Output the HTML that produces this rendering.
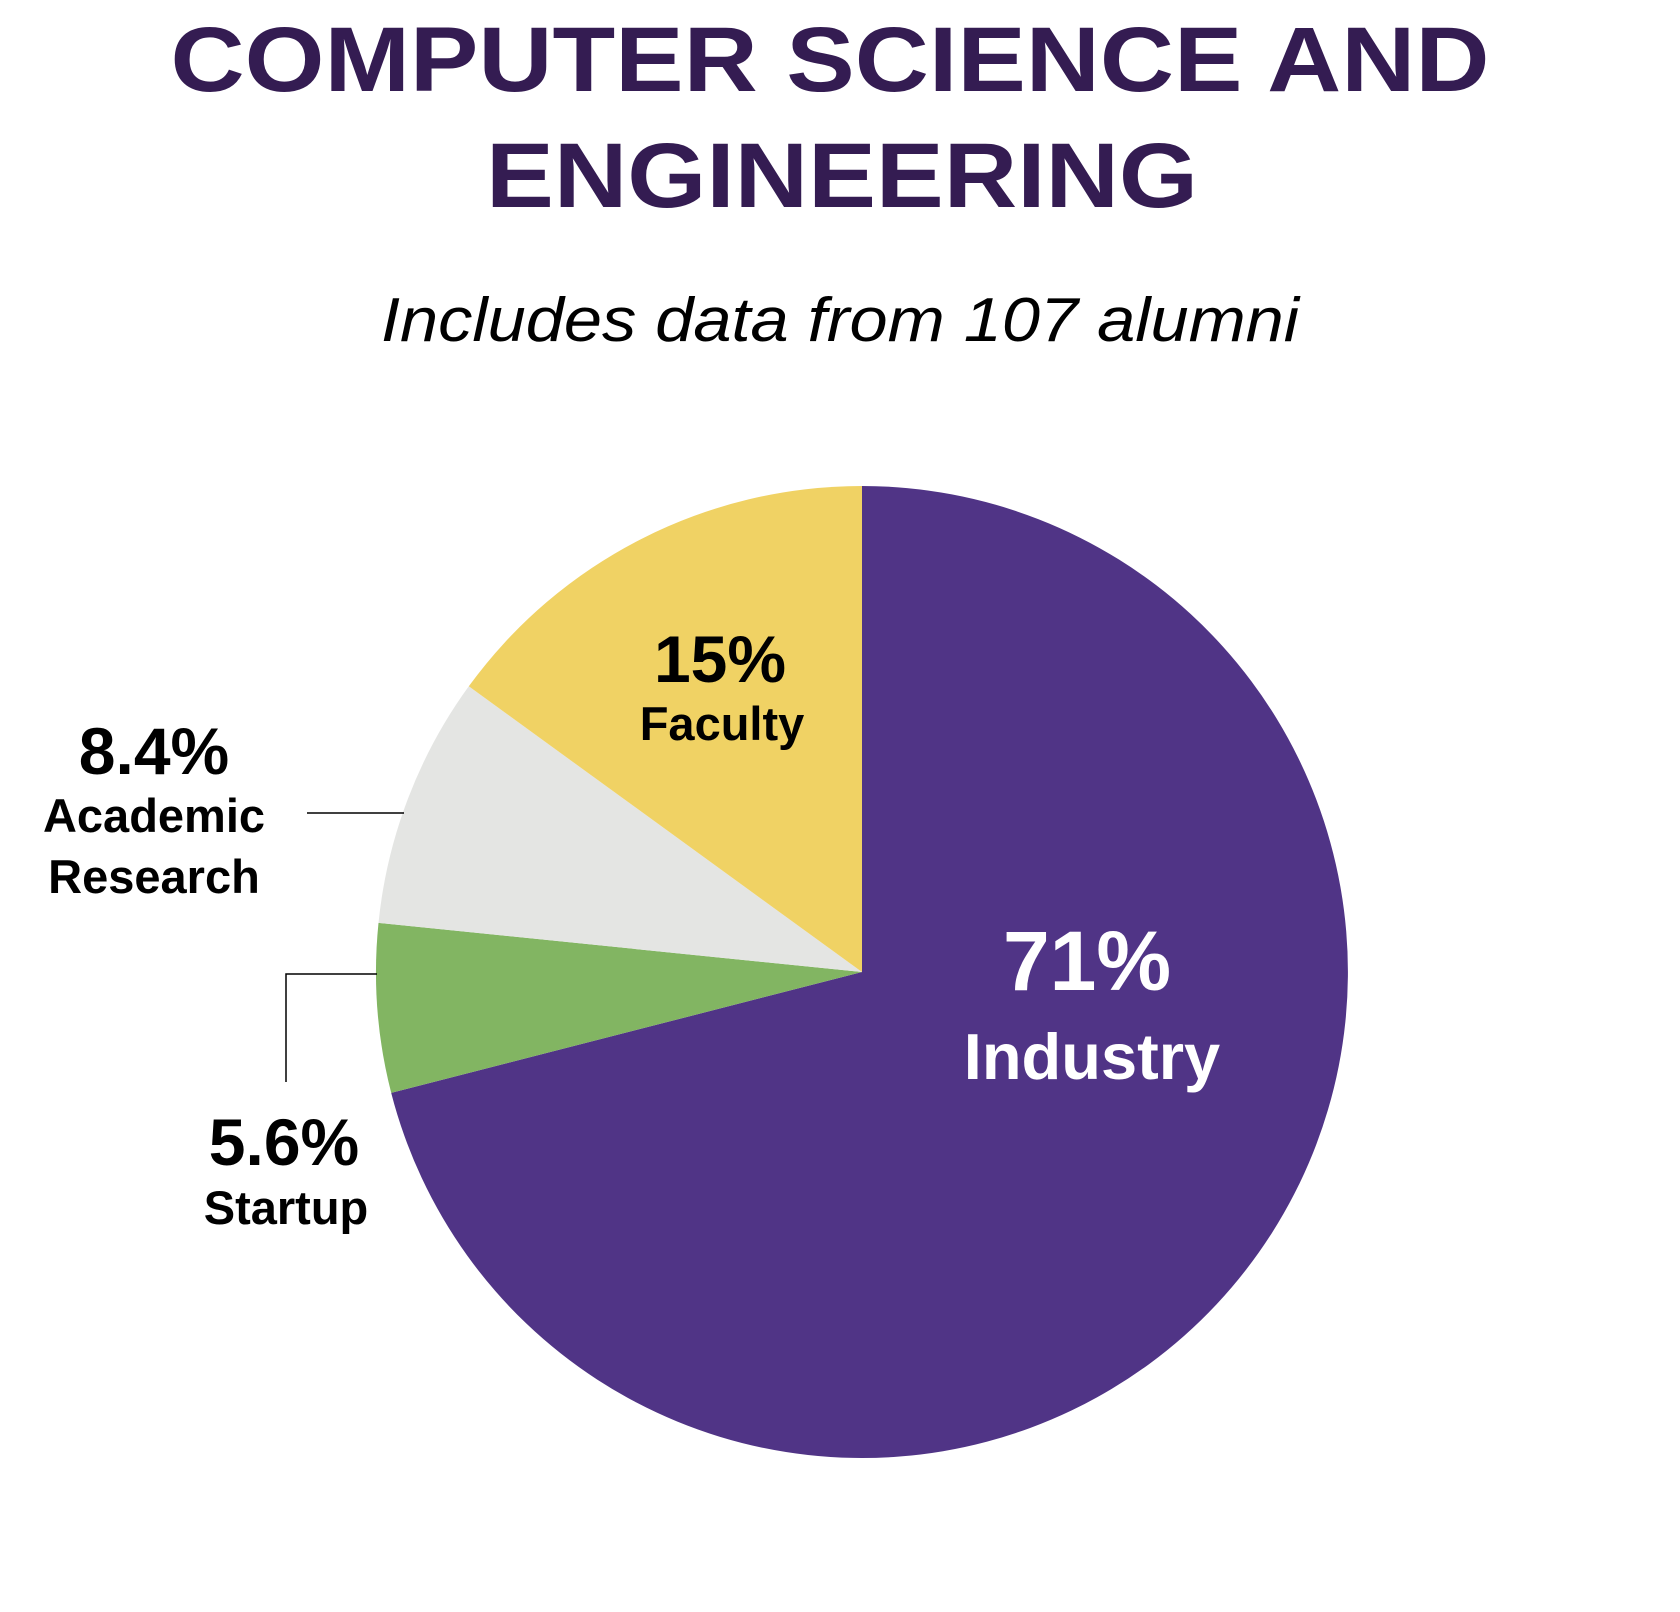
<!DOCTYPE html>
<html><head><style>html,body{margin:0;padding:0;background:#fff;}svg{display:block}</style></head>
<body>
<svg width="1680" height="1612" viewBox="0 0 1680 1612" xmlns="http://www.w3.org/2000/svg">
<g font-family="Liberation Sans, sans-serif" font-weight="bold" text-anchor="middle">
<text x="830" y="91" font-size="92" fill="#341C52" textLength="1319" lengthAdjust="spacingAndGlyphs">COMPUTER SCIENCE AND</text>
<text x="842" y="207" font-size="92" fill="#341C52" textLength="712" lengthAdjust="spacingAndGlyphs">ENGINEERING</text>
</g>
<text x="840" y="341" font-family="Liberation Sans, sans-serif" font-style="italic" font-size="62" text-anchor="middle" fill="#000" textLength="918" lengthAdjust="spacingAndGlyphs">Includes data from 107 alumni</text>
<g transform="translate(862,972)">
<path d="M0,0 L0,-486 A486,486 0 1 1 -470.8,120.9 Z" fill="#503486"/>
<path d="M0,0 L-470.8,120.9 A486,486 0 0 1 -483.5,-49.1 Z" fill="#82B562"/>
<path d="M0,0 L-483.5,-49.1 A486,486 0 0 1 -393.2,-285.7 Z" fill="#E4E5E3"/>
<path d="M0,0 L-393.2,-285.7 A486,486 0 0 1 0,-486 Z" fill="#F0D264"/>
</g>
<g stroke="#000" stroke-width="1.5" fill="none">
<path d="M307,813 L404,813"/>
<path d="M377,974 L286,974 L286,1082"/>
</g>
<g font-family="Liberation Sans, sans-serif" font-weight="bold" text-anchor="middle">
<text x="720" y="682" font-size="66" fill="#000">15%</text>
<text x="722" y="740" font-size="47" fill="#000">Faculty</text>
<text x="1087" y="990" font-size="84" fill="#fff">71%</text>
<text x="1092" y="1079" font-size="65" fill="#fff">Industry</text>
<text x="154" y="774" font-size="66" fill="#000">8.4%</text>
<text x="154" y="832" font-size="47" fill="#000">Academic</text>
<text x="154" y="893" font-size="47" fill="#000">Research</text>
<text x="284" y="1165" font-size="66" fill="#000">5.6%</text>
<text x="286" y="1224" font-size="47" fill="#000">Startup</text>
</g>
</svg>
</body></html>
